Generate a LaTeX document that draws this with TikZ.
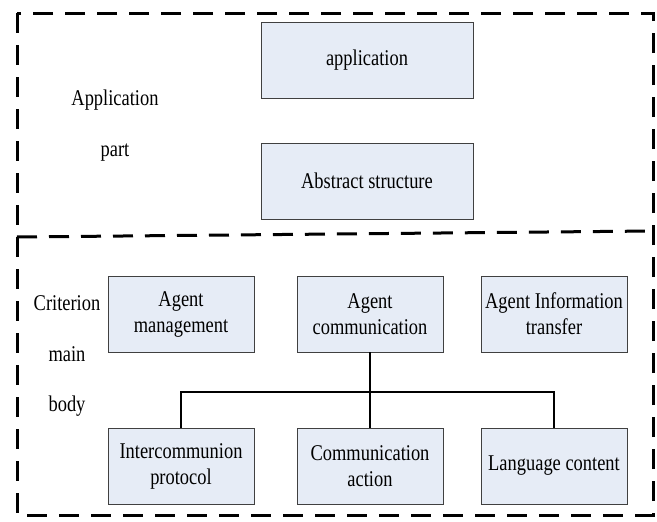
\documentclass[tikz,border=0pt]{standalone}
\usepackage{fontspec}
\setmainfont{Liberation Serif}
\newfontfamily\condserif[FakeStretch=0.82]{Liberation Serif}
\definecolor{boxfill}{RGB}{230,236,246}
\tikzset{
  txt/.style={font=\condserif\fontsize{22.5}{26}\selectfont},
  blk/.style={txt, draw=black!75, line width=0.8pt, fill=boxfill, minimum height=76pt, align=center, inner sep=2pt},
  wide/.style={minimum width=212pt},
  narrow/.style={minimum width=146pt},
  lbl/.style={txt, inner sep=0pt},
  region/.style={line width=3pt, dash pattern=on 20pt off 12pt},
  conn/.style={line width=2pt}
}
\begin{document}
\begin{tikzpicture}[x=1pt,y=-1pt]
\useasboundingbox (0,0) rectangle (657,522);
% regions
\draw[region] (17,13) rectangle (653,515);
\draw[region] (17,237) -- (653,231);
% labels
\node[lbl] (t1) at (115,100) {Application};
\node[lbl] (t2) at (115,153) {part};
\node[lbl] (t3) at (67,303) {Criterion};
\node[lbl] (t4) at (67,354) {main};
\node[lbl] (t5) at (67,406) {body};
% top boxes
\node[blk,wide] (app) at (367,60) {application};
\node[blk,wide] (abs) at (367,181) {Abstract structure};
% middle row
\node[blk,narrow] (am) at (181,314) {Agent\\management};
\node[blk,narrow] (ac) at (370,314) {Agent\\communication};
\node[blk,narrow] (ai) at (554,314) {Agent Information\\transfer};
% bottom row
\node[blk,narrow] (ip) at (181,466) {Intercommunion\\protocol};
\node[blk,narrow] (ca) at (370,466) {Communication\\action};
\node[blk,narrow] (lc) at (554,466) {Language content};
% connectors
\coordinate (bus) at (370,392);
\draw[conn] (ac.south) -- (ca.north);
\draw[conn] (ip.north) -- (ip.north |- bus) -- (lc.north |- bus) -- (lc.north);
\end{tikzpicture}
\end{document}
